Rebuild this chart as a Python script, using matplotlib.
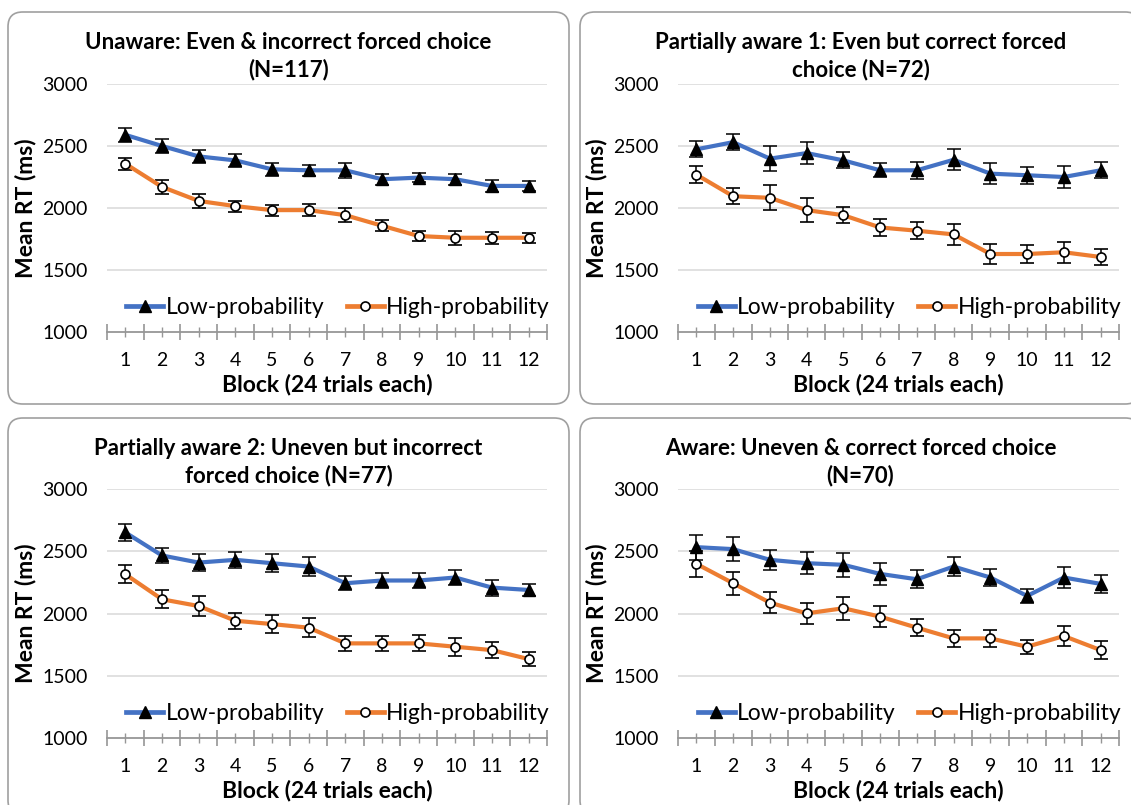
"""
Mean RT per block for four awareness groups (low vs high probability trials).
"""
import matplotlib
matplotlib.use("Agg")
import matplotlib.pyplot as plt
from matplotlib.patches import FancyBboxPatch
from matplotlib.lines import Line2D

blocks = [str(i) for i in range(1, 13)]

titles = [
    "Unaware: Even & incorrect forced choice\n(N=117)",
    "Partially aware 1: Even but correct forced\nchoice (N=72)",
    "Partially aware 2: Uneven but incorrect\nforced choice (N=77)",
    "Aware: Uneven & correct forced choice\n(N=70)",
]

# low-probability means and error bars, one list per panel
low_unaware = [2590, 2500, 2416, 2384, 2312, 2304, 2304, 2232, 2245, 2232, 2178, 2178]
low_unaware_err = [55, 55, 50, 50, 50, 45, 60, 45, 35, 45, 45, 40]
low_partial1 = [2473, 2531, 2398, 2443, 2384, 2304, 2304, 2389, 2277, 2264, 2250, 2304]
low_partial1_err = [65, 63, 100, 90, 65, 55, 70, 85, 83, 70, 87, 63]
low_partial2 = [2651, 2466, 2409, 2431, 2404, 2377, 2243, 2265, 2265, 2289, 2208, 2189]
low_partial2_err = [65, 62, 70, 63, 70, 74, 58, 60, 60, 63, 65, 50]
low_aware = [2533, 2517, 2431, 2404, 2391, 2318, 2275, 2377, 2289, 2141, 2289, 2238]
low_aware_err = [100, 94, 80, 86, 94, 87, 74, 74, 67, 58, 87, 71]

# high-probability means and error bars
high_unaware = [2357, 2170, 2057, 2015, 1983, 1983, 1942, 1857, 1774, 1760, 1760, 1760]
high_unaware_err = [50, 55, 55, 45, 45, 50, 55, 45, 40, 55, 50, 40]
high_partial1 = [2269, 2095, 2082, 1983, 1942, 1843, 1817, 1787, 1629, 1629, 1643, 1605]
high_partial1_err = [70, 65, 100, 94, 65, 65, 70, 87, 84, 70, 86, 63]
high_partial2 = [2315, 2114, 2060, 1942, 1915, 1886, 1760, 1760, 1760, 1733, 1706, 1634]
high_partial2_err = [71, 71, 78, 63, 70, 76, 58, 62, 64, 71, 62, 54]
high_aware = [2399, 2243, 2087, 2001, 2042, 1975, 1886, 1800, 1800, 1733, 1819, 1706]
high_aware_err = [103, 91, 85, 87, 94, 85, 70, 67, 67, 58, 83, 71]

low_series = [low_unaware, low_partial1, low_partial2, low_aware]
low_errs = [low_unaware_err, low_partial1_err, low_partial2_err, low_aware_err]
high_series = [high_unaware, high_partial1, high_partial2, high_aware]
high_errs = [high_unaware_err, high_partial1_err, high_partial2_err, high_aware_err]

BLUE = "#4472C4"
ORANGE = "#ED7D31"
AXIS_GREY = "#969696"
FONT = "Lato"

W, H = 1131, 805


def px_rect(left, top, right, bottom):
    return [left / W, 1 - bottom / H, (right - left) / W, (bottom - top) / H]


# panel frames and plot areas, in pixels (left, top, right, bottom)
boxes = [(8, 12, 569, 404), (580, 12, 1140, 404), (8, 418, 569, 815), (580, 418, 1140, 815)]
axes_px = [(107, 84, 547, 332), (678, 84, 1119, 332), (107, 489, 547, 738), (678, 489, 1119, 738)]

fig = plt.figure(figsize=(W / 100, H / 100), dpi=100)
fig.patch.set_facecolor("white")

legend_handles = [
    Line2D([], [], color=BLUE, lw=3.4, marker="^", ms=8, mfc="black", mec="black"),
    Line2D([], [], color=ORANGE, lw=3.4, marker="o", ms=6.5, mfc="white",
           mec="black", mew=1.2),
]

for i in range(4):
    bl, bt, br, bb = boxes[i]
    box = FancyBboxPatch((bl / W, 1 - bb / H), (br - bl) / W, (bb - bt) / H,
                         boxstyle="round,pad=0,rounding_size=0.013",
                         mutation_aspect=W / H,
                         transform=fig.transFigure, facecolor="white",
                         edgecolor="#A0A0A0", linewidth=1.2, zorder=-5)
    fig.patches.append(box)

    ax = fig.add_axes(px_rect(*axes_px[i]))
    ax.set_facecolor("none")
    x = list(range(len(blocks)))

    ax.errorbar(x, low_series[i], yerr=low_errs[i], color=BLUE, lw=3.0,
                marker="^", ms=8, mfc="black", mec="black",
                ecolor="black", elinewidth=1.1, capsize=5, capthick=1.1, zorder=3)
    ax.errorbar(x, high_series[i], yerr=high_errs[i], color=ORANGE, lw=3.0,
                marker="o", ms=6.5, mfc="white", mec="black", mew=1.2,
                ecolor="black", elinewidth=1.1, capsize=5, capthick=1.1, zorder=3)

    ax.set_xlim(-0.5, len(blocks) - 0.5)
    ax.set_ylim(1000, 3000)
    ax.set_yticks([1000, 1500, 2000, 2500, 3000])
    ax.set_xticks(x)
    ax.set_xticklabels(blocks)
    ax.set_xticks([k - 0.5 for k in range(len(blocks) + 1)], minor=True)
    ax.tick_params(axis="x", which="major", direction="inout", length=7,
                   color=AXIS_GREY, width=1, pad=11, labelsize=14)
    ax.tick_params(axis="x", which="minor", direction="inout", length=11,
                   color=AXIS_GREY, width=1.2)
    ax.tick_params(axis="y", length=0, pad=14, labelsize=14)
    for lab in ax.get_xticklabels() + ax.get_yticklabels():
        lab.set_fontfamily(FONT)
    for s in ["top", "right", "left"]:
        ax.spines[s].set_visible(False)
    ax.spines["bottom"].set_color(AXIS_GREY)
    ax.spines["bottom"].set_linewidth(1.3)
    for yv in [1500, 2000, 2500, 3000]:
        ax.axhline(yv, color="#D9D9D9", lw=1.1, zorder=0)

    ax.set_xlabel("Block (24 trials each)", fontsize=16.5, fontweight="bold",
                  fontfamily=FONT, labelpad=3)
    ax.set_ylabel("Mean RT (ms)", fontsize=16.5, fontweight="bold",
                  fontfamily=FONT, labelpad=4)

    ax.legend(legend_handles, ["Low-probability", "High-probability"],
              loc="center", bbox_to_anchor=(0.525, 0.1), ncol=2,
              frameon=False, handlelength=1.6, handletextpad=0.1,
              columnspacing=1.0, borderpad=0, borderaxespad=0,
              prop={"family": FONT, "size": 16.5})

    cx = (bl + bl + 561) / 2
    fig.text(cx / W, 1 - (bt + 44) / H, titles[i], ha="center", va="center",
             fontsize=16, fontweight="bold", fontfamily=FONT, linespacing=1.3)

fig.savefig("out.png", dpi=100)
